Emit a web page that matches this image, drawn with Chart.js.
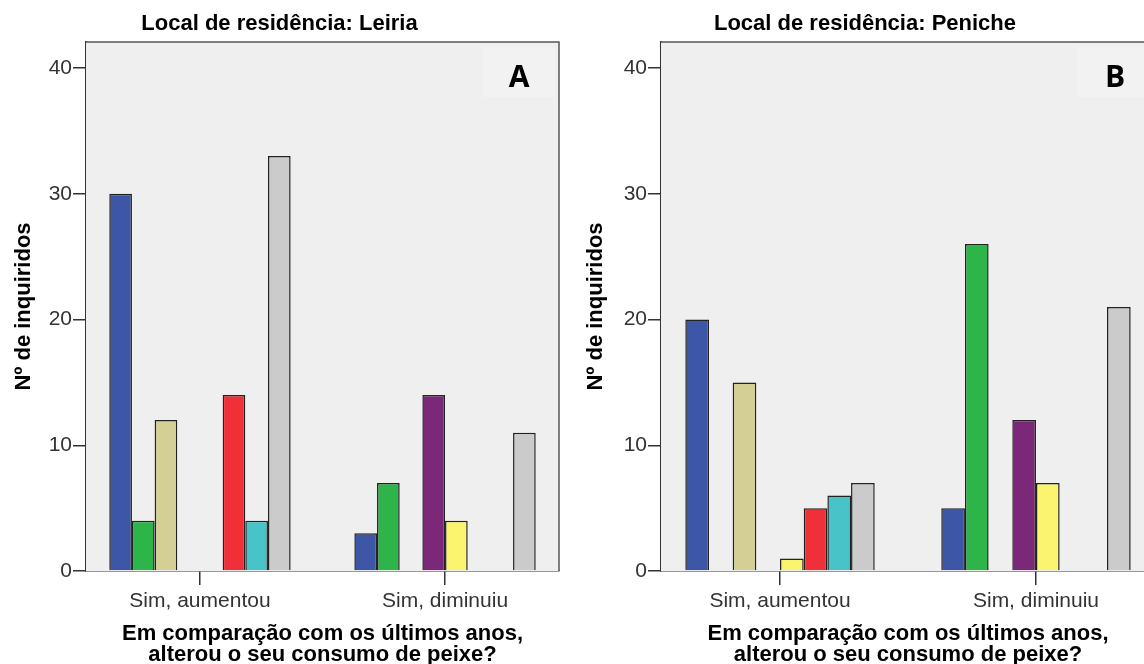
<!DOCTYPE html>
<html>
<head>
<meta charset="utf-8">
<script src="https://cdn.jsdelivr.net/npm/chart.js@4.4.1/dist/chart.umd.min.js"></script>
<style>
  html, body { margin: 0; padding: 0; background: #fff; overflow: hidden; }
  #wrap { position: relative; width: 1144px; height: 664px; overflow: hidden; }
  #chartA { position: absolute; left: 0; top: 0; }
  #chartB { position: absolute; left: 575px; top: 0; }
</style>
</head>
<body>
<div id="wrap">
  <canvas id="chartA" width="575" height="664"></canvas>
  <canvas id="chartB" width="585" height="664"></canvas>
</div>
<script>
// categories on the x axis
const categories = ['Sim, aumentou', 'Sim, diminuiu'];
const yTicks = [0, 10, 20, 30, 40];

// one value per coloured bar, in the order of the colours below (null = no bar)
const leiriaAumentou  = [30, 4, 12, null, null, 14, 4, 33];
const leiriaDiminuiu  = [3, 7, null, 14, 4, null, null, 11];
const penicheAumentou = [20, null, 15, null, 1, 5, 6, 7];
const penicheDiminuiu = [5, 26, null, 12, 7, null, null, 21];

const barColors = ['#3d56a6', '#2db54a', '#d3cf95', '#7b2879', '#fbf46f', '#f03039', '#48c4c9', '#cbcbcb'];

const FONT = "'Liberation Sans', Arial, sans-serif";

// plot background, frame and the panel letter
const panelDecor = {
  id: 'panelDecor',
  beforeDatasetsDraw(chart, args, opts) {
    const { ctx, chartArea: a } = chart;
    ctx.save();
    ctx.fillStyle = '#efefef';
    ctx.fillRect(a.left, a.top, a.right - a.left, a.bottom - a.top);
    ctx.fillStyle = '#f2f2f2';
    ctx.fillRect(a.right - 77, a.top + 5, 73, 50);
    ctx.fillStyle = '#000';
    ctx.font = "bold 30px 'Liberation Sans Narrow', 'Open Sans', sans-serif";
    ctx.textAlign = 'center';
    ctx.textBaseline = 'middle';
    ctx.fillText(opts.letter, a.right - 40, a.top + 36);
    ctx.restore();
  },
  afterDraw(chart) {
    const { ctx, chartArea: a } = chart;
    ctx.save();
    ctx.strokeStyle = '#555';
    ctx.lineWidth = 1.5;
    ctx.beginPath();
    ctx.moveTo(a.left, a.top);
    ctx.lineTo(a.right, a.top);
    ctx.lineTo(a.right, a.bottom);
    ctx.stroke();
    ctx.restore();
  }
};

function makePanel(id, title, letter, aumentou, diminuiu, padRight, yTitlePad) {
  const datasets = barColors.map((c, i) => ({
    label: 'Série ' + (i + 1),
    data: [
      { x: 0, y: aumentou[i] },
      { x: 1, y: diminuiu[i] }
    ].filter(p => p.y !== null),
    backgroundColor: c,
    borderColor: '#222',
    borderWidth: 1.5,
    categoryPercentage: 0.74,
    barPercentage: 1
  }));

  return new Chart(document.getElementById(id), {
    type: 'bar',
    data: { datasets },
    plugins: [panelDecor],
    options: {
      responsive: false,
      animation: false,
      layout: { padding: { left: 0, right: padRight, top: 0, bottom: 0 } },
      plugins: {
        legend: { display: false },
        tooltip: { enabled: false },
        panelDecor: { letter },
        title: {
          display: true,
          text: title,
          color: '#000',
          font: { family: FONT, size: 22, weight: 'bold', lineHeight: 1.2 },
          padding: { top: 11, bottom: 4.6 }
        }
      },
      scales: {
        x: {
          type: 'linear',
          min: -0.465,
          max: 1.465,
          offset: false,
          afterBuildTicks: s => { s.ticks = categories.map((_, i) => ({ value: i })); },
          afterFit: s => { s.height = 93; },
          grid: { drawOnChartArea: false, offset: false, tickLength: 14, color: '#333', lineWidth: 1.5 },
          border: { color: '#333', width: 1.5 },
          ticks: {
            padding: 4,
            color: '#333',
            font: { family: FONT, size: 21 },
            callback: v => categories[v]
          },
          title: {
            display: true,
            text: ['Em comparação com os últimos anos,', 'alterou o seu consumo de peixe?'],
            color: '#000',
            font: { family: FONT, size: 22, weight: 'bold', lineHeight: 0.955 },
            padding: { top: 0, bottom: -1.5 }
          }
        },
        y: {
          min: 0,
          max: 42.07,
          afterBuildTicks: s => { s.ticks = yTicks.map(v => ({ value: v })); },
          afterFit: s => { s.width = 86; },
          grid: { drawOnChartArea: false, tickLength: 13, color: '#333', lineWidth: 1.5 },
          border: { color: '#333', width: 1.5 },
          ticks: {
            padding: 1,
            color: '#333',
            font: { family: FONT, size: 21 }
          },
          title: {
            display: true,
            text: 'Nº de inquiridos',
            color: '#000',
            font: { family: FONT, size: 22, weight: 'bold', lineHeight: 1.2 },
            padding: { top: yTitlePad, bottom: 0 }
          }
        }
      }
    }
  });
}

makePanel('chartA', 'Local de residência: Leiria', 'A', leiriaAumentou, leiriaDiminuiu, 16, 11);
makePanel('chartB', 'Local de residência: Peniche', 'B', penicheAumentou, penicheDiminuiu, 5, 8);
</script>
</body>
</html>
